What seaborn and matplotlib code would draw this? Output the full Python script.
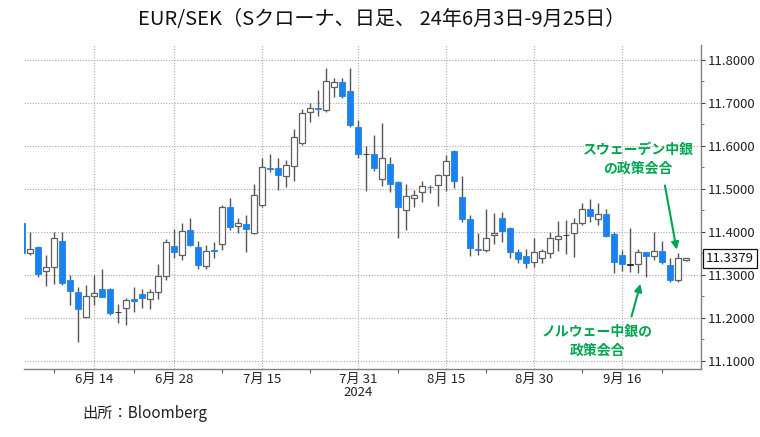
import numpy as np
import pandas as pd
import matplotlib
matplotlib.use('Agg')
import matplotlib.pyplot as plt
import matplotlib.ticker as mticker
import matplotlib.transforms as mtrans
import seaborn as sns

# EUR/SEK daily candles, 2024-06-03 .. 2024-09-26
dates = pd.bdate_range('2024-06-03', '2024-09-26')

opens = [11.421, 11.350, 11.364, 11.309, 11.319, 11.379, 11.288, 11.260, 11.202, 11.250,
         11.266, 11.268, 11.214, 11.222, 11.244, 11.255, 11.243, 11.260, 11.297, 11.367,
         11.346, 11.404, 11.364, 11.320, 11.357, 11.371, 11.457, 11.414, 11.417, 11.396,
         11.462, 11.549, 11.547, 11.530, 11.553, 11.606, 11.678, 11.688, 11.683, 11.736,
         11.747, 11.727, 11.643, 11.581, 11.581, 11.522, 11.557, 11.515, 11.450, 11.478,
         11.492, 11.505, 11.509, 11.532, 11.588, 11.481, 11.430, 11.361, 11.357, 11.392,
         11.431, 11.409, 11.353, 11.343, 11.330, 11.338, 11.350, 11.384, 11.392, 11.396,
         11.420, 11.454, 11.430, 11.441, 11.395, 11.347, 11.324, 11.325, 11.352, 11.344,
         11.355, 11.322, 11.289, 11.334]
highs = [11.425, 11.400, 11.367, 11.346, 11.400, 11.400, 11.299, 11.272, 11.277, 11.300,
         11.313, 11.270, 11.233, 11.247, 11.271, 11.266, 11.266, 11.326, 11.382, 11.406,
         11.420, 11.431, 11.379, 11.369, 11.377, 11.462, 11.478, 11.431, 11.439, 11.510,
         11.571, 11.581, 11.572, 11.567, 11.638, 11.685, 11.700, 11.730, 11.780, 11.757,
         11.757, 11.780, 11.660, 11.600, 11.625, 11.652, 11.574, 11.517, 11.512, 11.497,
         11.518, 11.509, 11.534, 11.578, 11.590, 11.530, 11.440, 11.396, 11.452, 11.443,
         11.447, 11.412, 11.361, 11.361, 11.385, 11.361, 11.400, 11.426, 11.427, 11.433,
         11.467, 11.475, 11.467, 11.452, 11.400, 11.357, 11.408, 11.361, 11.353, 11.400,
         11.379, 11.338, 11.350, 11.339]
lows = [11.348, 11.346, 11.294, 11.274, 11.278, 11.276, 11.229, 11.144, 11.200, 11.230,
        11.248, 11.206, 11.187, 11.183, 11.214, 11.222, 11.220, 11.243, 11.288, 11.338,
        11.334, 11.368, 11.313, 11.313, 11.340, 11.357, 11.404, 11.398, 11.353, 11.395,
        11.458, 11.540, 11.497, 11.505, 11.519, 11.602, 11.656, 11.670, 11.679, 11.714,
        11.710, 11.644, 11.571, 11.495, 11.541, 11.507, 11.493, 11.385, 11.404, 11.457,
        11.470, 11.489, 11.460, 11.495, 11.501, 11.423, 11.343, 11.346, 11.353, 11.371,
        11.377, 11.340, 11.327, 11.315, 11.318, 11.328, 11.338, 11.356, 11.348, 11.342,
        11.416, 11.423, 11.416, 11.387, 11.305, 11.309, 11.307, 11.303, 11.294, 11.334,
        11.326, 11.283, 11.283, 11.333]
closes = [11.350, 11.359, 11.302, 11.319, 11.385, 11.280, 11.263, 11.220, 11.250, 11.258,
          11.249, 11.210, 11.214, 11.241, 11.238, 11.247, 11.260, 11.297, 11.375, 11.354,
          11.401, 11.369, 11.323, 11.355, 11.355, 11.457, 11.412, 11.421, 11.406, 11.486,
          11.550, 11.546, 11.533, 11.554, 11.621, 11.677, 11.687, 11.686, 11.750, 11.747,
          11.716, 11.647, 11.580, 11.581, 11.547, 11.571, 11.510, 11.458, 11.483, 11.485,
          11.507, 11.504, 11.532, 11.564, 11.518, 11.430, 11.363, 11.358, 11.386, 11.396,
          11.402, 11.353, 11.336, 11.328, 11.353, 11.356, 11.386, 11.390, 11.392, 11.421,
          11.452, 11.437, 11.441, 11.391, 11.330, 11.325, 11.324, 11.353, 11.344, 11.355,
          11.329, 11.288, 11.340, 11.3379]

tick_dates = ['2024-06-14', '2024-06-28', '2024-07-15', '2024-07-31',
              '2024-08-15', '2024-08-30', '2024-09-16']
tick_labels = ['6月 14', '6月 28', '7月 15', '7月 31\n2024', '8月 15', '8月 30', '9月 16']
minor_dates = ['2024-06-07', '2024-06-21', '2024-07-08', '2024-07-23',
               '2024-08-07', '2024-08-22', '2024-09-09', '2024-09-23']

last_price = closes[-1]

df = pd.DataFrame({'date': dates, 'open': opens, 'high': highs,
                   'low': lows, 'close': closes})
df['x'] = np.arange(len(df))

sns.set_style('white')
plt.rcParams['font.family'] = ['Noto Sans CJK JP', 'DejaVu Sans']

BLUE = '#1a82ee'
GREEN = '#00a550'
GRID = '#a8a8a8'

fig = plt.figure(figsize=(7.6, 4.37), dpi=100)
ax = fig.add_axes([24 / 760, 68 / 437, (700.7 - 24) / 760, (369 - 45) / 437])

# wicks
ax.vlines(df['x'], df['low'], df['high'], color='#555555', lw=1.0, zorder=2)

# bodies
up = df['close'] > df['open']
down = df['close'] < df['open']
flat = df['close'] == df['open']
w = 0.66
minh = 0.0009
b = df[up]
ax.bar(b['x'], np.maximum(b['close'] - b['open'], minh), bottom=b['open'], width=w,
       color='white', edgecolor='#606060', linewidth=0.9, zorder=3)
b = df[down]
ax.bar(b['x'], np.maximum(b['open'] - b['close'], minh), bottom=b['close'], width=w,
       color=BLUE, edgecolor=BLUE, linewidth=0.6, zorder=3)
b = df[flat]
ax.bar(b['x'], minh, bottom=b['open'] - minh / 2, width=w,
       color='#222222', edgecolor='#222222', linewidth=0.6, zorder=3)

ax.set_xlim(0.25, 84.84)
ax.set_ylim(11.081, 11.834)

# x axis
pos = {d: i for i, d in enumerate(dates.strftime('%Y-%m-%d'))}
ax.set_xticks([pos[d] for d in tick_dates])
ax.set_xticklabels(tick_labels, fontsize=9.5, color='#222222', linespacing=1.0)
ax.set_xticks([pos[d] for d in minor_dates], minor=True)

# y axis on the right
ax.yaxis.tick_right()
ax.set_yticks(np.arange(11.1, 11.81, 0.1))
ax.yaxis.set_major_formatter(mticker.FormatStrFormatter('%.4f'))
ax.yaxis.set_minor_locator(mticker.MultipleLocator(0.05))
ax.tick_params(axis='y', which='major', labelsize=9.5, length=3, width=0.8,
               color='#404040', labelcolor='#222222', pad=2)
ax.tick_params(axis='y', which='minor', length=2, width=0.6, color='#606060')
ax.tick_params(axis='x', which='major', length=0, pad=3)
ax.tick_params(axis='x', which='minor', length=3, width=0.8, color='#606060',
               bottom=True)

for s in ['left', 'top']:
    ax.spines[s].set_visible(False)
for s in ['right', 'bottom']:
    ax.spines[s].set_color('#808080')
    ax.spines[s].set_linewidth(1.0)

ax.grid(True, which='major', color=GRID, lw=0.8, ls=(0, (1, 1.5)))
ax.set_axisbelow(True)

# last price tag
trans = mtrans.blended_transform_factory(ax.transAxes, ax.transData)
ax.text(1.008, last_price, f'{last_price:.4f}', transform=trans, ha='left', va='center',
        fontsize=9.5, color='#111111',
        bbox=dict(boxstyle='square,pad=0.2', fc='white', ec='#111111', lw=0.9))

# annotations
ax.text(77.0, 11.569, 'スウェーデン中銀\nの政策会合', ha='center', va='center',
        fontsize=10, fontweight='bold', color=GREEN, linespacing=1.45)
ax.annotate('', xy=(81.9, 11.352), xytext=(80.3, 11.514),
            arrowprops=dict(arrowstyle='-|>', color=GREEN, lw=1.5, mutation_scale=11))
ax.text(71.9, 11.146, 'ノルウェー中銀の\n政策会合', ha='center', va='center',
        fontsize=10, fontweight='bold', color=GREEN, linespacing=1.45)
ax.annotate('', xy=(77.4, 11.285), xytext=(76.1, 11.197),
            arrowprops=dict(arrowstyle='-|>', color=GREEN, lw=1.5, mutation_scale=11))

fig.text(382 / 760, 1 - 20 / 437, 'EUR/SEK（Sクローナ、日足、 24年6月3日-9月25日）',
         ha='center', va='center', fontsize=14.5, color='#111111')
fig.text(82 / 760, 1 - 413 / 437, '出所：Bloomberg', ha='left', va='center',
         fontsize=11, color='#222222')

fig.savefig('out.png', dpi=100)
